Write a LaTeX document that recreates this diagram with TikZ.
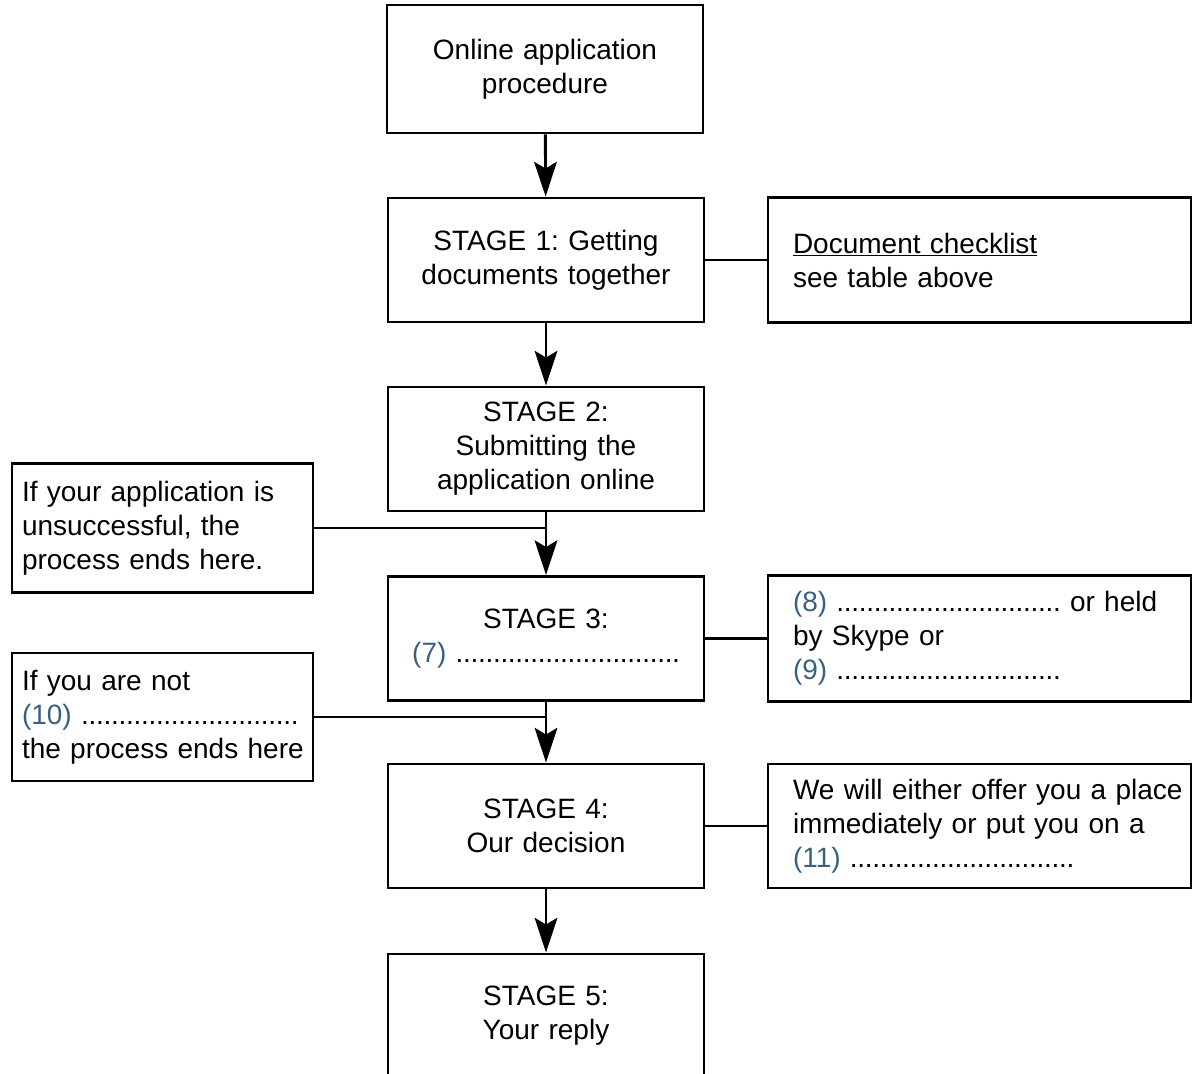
\documentclass[tikz,border=0pt]{standalone}
\usepackage{fontspec}
\setmainfont{Liberation Sans}
\usetikzlibrary{arrows.meta}
\frenchspacing

\definecolor{numblue}{RGB}{58,96,128}
\newcommand{\qnum}[1]{\textcolor{numblue}{(#1)}}
\newcommand{\dotsgap}[1][168pt]{\hbox to #1{\xleaders\hbox to 5.5pt{\hss.\hss}\hfil}}

\tikzset{every picture/.style={line width=2.2pt}}
\tikzset{
  boxfont/.style={font=\fontsize{21}{25.5}\selectfont},
  stagebox/.style={draw, boxfont, text width=220pt, inner xsep=8.5pt, minimum height=93pt, align=center},
  leftbox/.style={draw, boxfont, text width=210.75pt, inner xsep=7.5pt, minimum height=97pt, align=left},
  rightbox/.style={draw, boxfont, text width=279.75pt, inner xsep=18.75pt, minimum height=94pt, align=left},
  flow/.style={-{Stealth[length=26pt,width=17pt,inset=5pt]}},
}

\begin{document}
\begin{tikzpicture}[x=0.75pt,y=0.75pt,yscale=-1,xscale=1]
\useasboundingbox (0,0) rectangle (1192,1074);

% Main column
\node[stagebox, minimum height=96pt] (online) at (545,69) {Online application\\procedure};
\node[stagebox] (stage1) at (546,260) {STAGE 1: Getting\\documents together};
\node[stagebox] (stage2) at (546,449) {STAGE 2:\\Submitting the\\application online};
\node[stagebox] (stage3) at (546,638.5) {STAGE 3:\\\qnum{7} \dotsgap};
\node[stagebox] (stage4) at (546,826) {STAGE 4:\\Our decision};
\node[stagebox] (stage5) at (546,1016) {STAGE 5:\\Your reply};

% Side boxes
\node[rightbox] (checklist) at (979.5,260) {\underline{Document checklist}\\see table above};
\node[leftbox] (unsucc) at (162.5,528) {If your application is\\unsuccessful, the\\process ends here.};
\node[rightbox] (skype) at (979.5,638.5) {\qnum{8} \dotsgap{} or held\\by Skype or\\\qnum{9} \dotsgap};
\node[leftbox, minimum height=96pt] (notsel) at (162.5,717) {If you are not\\\qnum{10} \dotsgap[163pt]\\\mbox{the process ends here}};
\node[rightbox, minimum height=93pt] (waitlist) at (979.5,826) {\mbox{We will either offer you a place}\\immediately or put you on a\\\qnum{11} \dotsgap};

% Arrows
\draw[flow] (online) -- (stage1);
\draw[flow] (stage1) -- (stage2);
\draw[flow] (stage2) -- (stage3);
\draw[flow] (stage3) -- (stage4);
\draw[flow] (stage4) -- (stage5);

% Straight Lines
\draw (stage1) -- (checklist);
\draw (stage3) -- (skype);
\draw (stage4) -- (waitlist);
\draw (unsucc.east) -- (unsucc.east -| stage2.south);
\draw (notsel.east) -- (notsel.east -| stage3.south);

\end{tikzpicture}
\end{document}
